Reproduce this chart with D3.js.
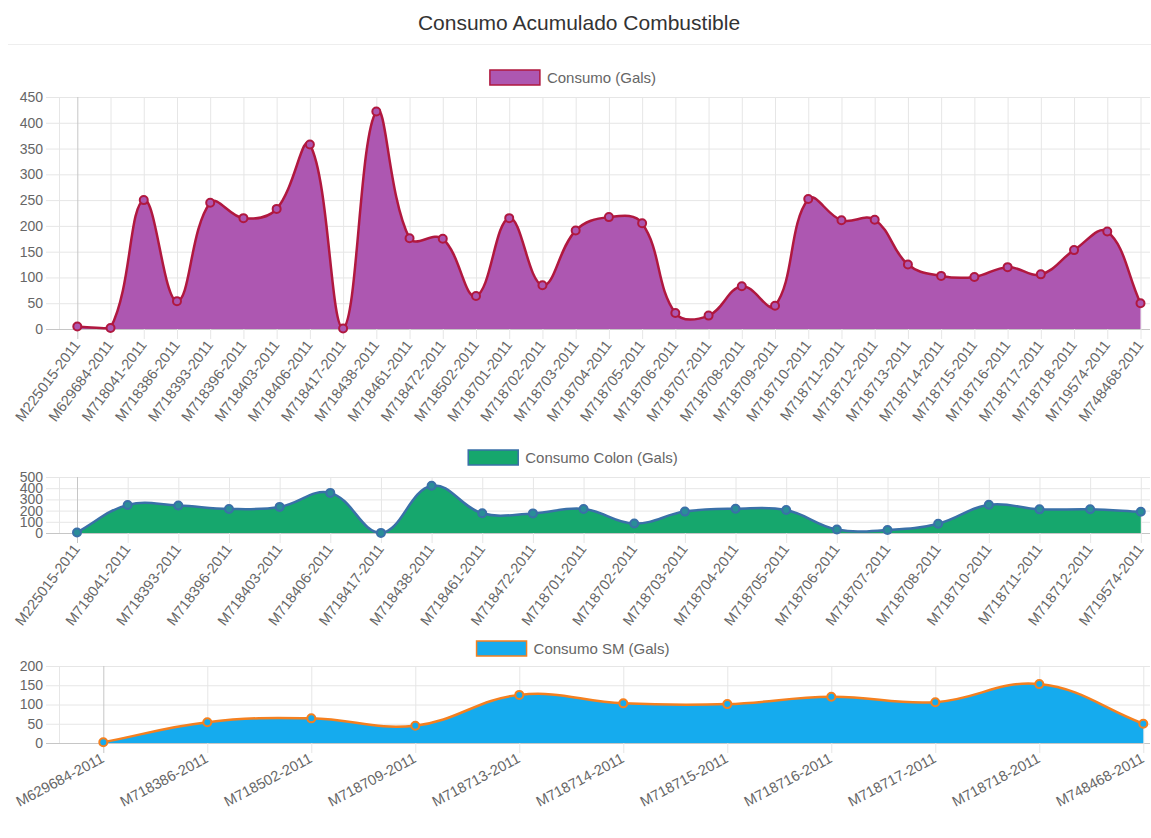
<!DOCTYPE html>
<meta charset="utf-8">
<style>

body {
    margin: 0;
    background: #fff;
}

.board {
    font-family: "Liberation Sans", Arial, sans-serif;
}

.axis path.domain {
    display: none;
}

.axis text {
    fill: #666;
    font-size: 14px;
}

.axis--x text {
    font-size: 14.6px;
}

</style>
<svg class="board" width="1151" height="838"></svg>
<script src="https://d3js.org/d3.v7.min.js"></script>
<script>

// Consumo total por unidad
var totalLabels = ["M225015-2011", "M629684-2011", "M718041-2011", "M718386-2011", "M718393-2011",
    "M718396-2011", "M718403-2011", "M718406-2011", "M718417-2011", "M718438-2011", "M718461-2011",
    "M718472-2011", "M718502-2011", "M718701-2011", "M718702-2011", "M718703-2011", "M718704-2011",
    "M718705-2011", "M718706-2011", "M718707-2011", "M718708-2011", "M718709-2011", "M718710-2011",
    "M718711-2011", "M718712-2011", "M718713-2011", "M718714-2011", "M718715-2011", "M718716-2011",
    "M718717-2011", "M718718-2011", "M719574-2011", "M748468-2011"];
var totalValues = [5, 2, 250, 54, 245, 215, 233, 358, 1, 422, 176, 175, 64, 215, 85, 191, 217,
    205, 31, 26, 83, 45, 252, 211, 212, 125, 103, 101, 120, 106, 153, 189, 50];

// Consumo Colon
var colonLabels = ["M225015-2011", "M718041-2011", "M718393-2011", "M718396-2011", "M718403-2011",
    "M718406-2011", "M718417-2011", "M718438-2011", "M718461-2011", "M718472-2011", "M718701-2011",
    "M718702-2011", "M718703-2011", "M718704-2011", "M718705-2011", "M718706-2011", "M718707-2011",
    "M718708-2011", "M718710-2011", "M718711-2011", "M718712-2011", "M719574-2011"];
var colonValues = [5, 250, 245, 215, 233, 358, 1, 422, 176, 175, 215, 85, 191, 217, 205, 31, 26,
    83, 252, 211, 212, 189];

// Consumo SM
var smLabels = ["M629684-2011", "M718386-2011", "M718502-2011", "M718709-2011", "M718713-2011",
    "M718714-2011", "M718715-2011", "M718716-2011", "M718717-2011", "M718718-2011", "M748468-2011"];
var smValues = [2, 54, 64, 45, 125, 103, 101, 120, 106, 153, 50];

var svg = d3.select("svg");

svg.append("text")
    .attr("x", 579)
    .attr("y", 30)
    .attr("text-anchor", "middle")
    .style("font-size", "21px")
    .style("fill", "#333")
    .text("Consumo Acumulado Combustible");

svg.append("line")
    .attr("x1", 8).attr("x2", 1151)
    .attr("y1", 44.5).attr("y2", 44.5)
    .attr("stroke", "#eeeeee");

// bezier like chart.js (tension 0.4), control points kept inside the chart area
function splineCurve(box) {
    return function(context) {
        var pts;
        return {
            areaStart: function() {},
            areaEnd: function() {},
            lineStart: function() { pts = []; },
            point: function(x, y) { pts.push([+x, +y]); },
            lineEnd: function() {
                var t = 0.4;
                var cps = pts.map(function(cur, i) {
                    var prev = pts[i - 1] || cur, next = pts[i + 1] || cur;
                    var d01 = Math.hypot(cur[0] - prev[0], cur[1] - prev[1]);
                    var d12 = Math.hypot(next[0] - cur[0], next[1] - cur[1]);
                    var s01 = d01 / (d01 + d12), s12 = d12 / (d01 + d12);
                    if (!isFinite(s01)) s01 = 0;
                    if (!isFinite(s12)) s12 = 0;
                    var fa = t * s01, fb = t * s12;
                    var cap = function(p) {
                        return [Math.max(box.left, Math.min(box.right, p[0])),
                                Math.max(box.top, Math.min(box.bottom, p[1]))];
                    };
                    return {
                        a: cap([cur[0] - fa * (next[0] - prev[0]), cur[1] - fa * (next[1] - prev[1])]),
                        b: cap([cur[0] + fb * (next[0] - prev[0]), cur[1] + fb * (next[1] - prev[1])])
                    };
                });
                context.moveTo(pts[0][0], pts[0][1]);
                for (var i = 1; i < pts.length; i++) {
                    context.bezierCurveTo(cps[i - 1].b[0], cps[i - 1].b[1],
                        cps[i].a[0], cps[i].a[1], pts[i][0], pts[i][1]);
                }
            }
        };
    };
}

var charts = [
    {labels: totalLabels, values: totalValues, name: "Consumo (Gals)",
     top: 97, bottom: 329, max: 450, step: 50, xRange: [77.3, 1140.5], angle: 53,
     legendY: 70, fill: "#ad57b1", stroke: "#b0183f", pointFill: "#ad57b1"},
    {labels: colonLabels, values: colonValues, name: "Consumo Colon (Gals)",
     top: 477, bottom: 533, max: 500, step: 100, xRange: [77, 1140.8], angle: 53,
     legendY: 450, fill: "#16a76d", stroke: "#3a70a8", pointFill: "#2a8d98"},
    {labels: smLabels, values: smValues, name: "Consumo SM (Gals)",
     top: 666, bottom: 743, max: 200, step: 50, xRange: [103.3, 1143.3], angle: 28,
     legendY: 641, fill: "#15abee", stroke: "#f5801f", pointFill: "#15abee"}
];

charts.forEach(function(c) {
    var x = d3.scalePoint().domain(c.labels).range(c.xRange),
        y = d3.scaleLinear().domain([0, c.max]).range([c.bottom, c.top]);

    var g = svg.append("g");
    var left = 59.5, right = 1150;

    // y axis + horizontal grid
    var yAxis = g.append("g")
        .attr("class", "axis axis--y")
        .attr("transform", "translate(46,0)")
        .call(d3.axisLeft(y).tickValues(d3.range(0, c.max + 1, c.step))
            .tickSize(-(right - 46)).tickPadding(3));
    yAxis.selectAll(".tick line")
        .attr("stroke", function(d) { return d === 0 ? "#c6c6c6" : "#e6e6e6"; });

    g.append("line")
        .attr("x1", left).attr("x2", left)
        .attr("y1", c.top).attr("y2", c.bottom)
        .attr("stroke", "#e6e6e6");

    // x axis + vertical grid
    var xAxis = g.append("g")
        .attr("class", "axis axis--x")
        .attr("transform", "translate(0," + c.bottom + ")")
        .call(d3.axisBottom(x).tickSizeOuter(0));
    xAxis.selectAll(".tick line")
        .attr("y1", 10)
        .attr("y2", -(c.bottom - c.top))
        .attr("stroke", function(d, i) { return i === 0 ? "#c6c6c6" : "#e6e6e6"; });
    xAxis.selectAll(".tick text")
        .attr("x", 0).attr("y", 0).attr("dy", "0.35em")
        .attr("text-anchor", "end")
        .attr("transform", "translate(-1," + (c.angle > 40 ? 13 : 14) + ") rotate(" + (-c.angle) + ")");

    // area and line
    var pts = c.labels.map(function(d, i) { return {label: d, value: c.values[i]}; });
    var line = d3.line()
        .x(function(d) { return x(d.label); })
        .y(function(d) { return y(d.value); })
        .curve(splineCurve({left: left, right: right, top: c.top, bottom: c.bottom}));
    var linePath = line(pts);

    g.append("path")
        .attr("d", linePath + "L" + x(c.labels[c.labels.length - 1]) + "," + y(0) +
            "L" + x(c.labels[0]) + "," + y(0) + "Z")
        .attr("fill", c.fill);

    g.append("path")
        .attr("d", linePath)
        .attr("fill", "none")
        .attr("stroke", c.stroke)
        .attr("stroke-width", 2.5);

    g.selectAll(".pt")
        .data(pts)
        .enter().append("circle")
        .attr("class", "pt")
        .attr("cx", function(d) { return x(d.label); })
        .attr("cy", function(d) { return y(d.value); })
        .attr("r", 4)
        .attr("fill", c.pointFill)
        .attr("stroke", c.stroke)
        .attr("stroke-width", 2);

    // legend
    var lg = svg.append("g");
    var lt = lg.append("text")
        .attr("y", c.legendY + 12.5)
        .style("font-size", "15px")
        .style("fill", "#666")
        .text(c.name);
    var total = 57 + lt.node().getComputedTextLength();
    var bx = 573 - total / 2;
    lt.attr("x", bx + 57);
    lg.append("rect")
        .attr("x", bx).attr("y", c.legendY)
        .attr("width", 50).attr("height", 15)
        .attr("fill", c.fill)
        .attr("stroke", c.stroke)
        .attr("stroke-width", 1.5);
});
</script>
